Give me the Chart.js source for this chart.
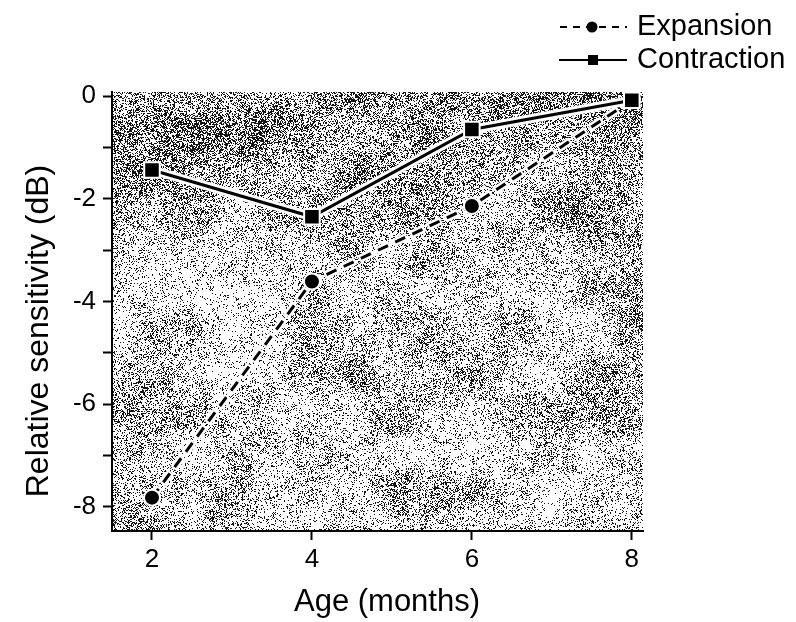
<!DOCTYPE html>
<html>
<head>
<meta charset="utf-8">
<script src="https://cdn.jsdelivr.net/npm/chart.js@4.4.1/dist/chart.umd.min.js"></script>
<style>
  html, body { margin: 0; padding: 0; background: #fff; }
  #caixa { width: 796px; height: 622px; }
</style>
</head>
<body>
<div id="caixa"><canvas id="grafico" width="796" height="622"></canvas></div>
<script>
/* dados */
const idades = [2, 4, 6, 8];
const expansao = [-7.82, -3.61, -2.14, -0.08];
const contracao = [-1.44, -2.35, -0.65, -0.08];
const ticksY = [0, -2, -4, -6, -8];

const rotuloX = 'Age (months)';
const rotuloY = 'Relative sensitivity (dB)';
const nomes = ['Expansion', 'Contraction'];

const fonte = "'Liberation Sans', Arial, sans-serif";

const pontos = (ys) => idades.map((x, i) => ({ x: x, y: ys[i] }));

/* textura de fundo (ruído tipo scanner, determinístico) */
function hash(ix, iy) {
  let h = (Math.imul(ix, 374761393) + Math.imul(iy, 668265263)) | 0;
  h = Math.imul(h ^ (h >>> 13), 1274126177);
  h = h ^ (h >>> 16);
  return (h >>> 0) / 4294967296;
}
function suave(x, y, passo) {
  const gx = Math.floor(x / passo), gy = Math.floor(y / passo);
  const fx = x / passo - gx, fy = y / passo - gy;
  const sx = fx * fx * (3 - 2 * fx), sy = fy * fy * (3 - 2 * fy);
  const a = hash(gx, gy), b = hash(gx + 1, gy), c = hash(gx, gy + 1), d = hash(gx + 1, gy + 1);
  return a + (b - a) * sx + (c - a) * sy + (a - b - c + d) * sx * sy;
}
const texturaPlugin = {
  id: 'textura',
  beforeDraw(chart) {
    const { ctx, chartArea: a } = chart;
    const w = Math.round(a.right - a.left), h = Math.round(a.bottom - a.top);
    const img = ctx.createImageData(w, h);
    for (let y = 0; y < h; y++) {
      for (let x = 0; x < w; x++) {
        const n = 0.5 * suave(x, y, 40) + 0.3 * suave(x + 999, y, 14) + 0.2 * suave(x, y + 777, 6);
        const dens = 0.04 + 0.6 * Math.pow(n, 1.7) + 0.2 * Math.max(0, 1 - y / 200);
        const i = (y * w + x) * 4;
        const v = hash(x + 5000, y + 9000) < dens ? 20 : 255;
        img.data[i] = v; img.data[i + 1] = v; img.data[i + 2] = v; img.data[i + 3] = 255;
      }
    }
    ctx.putImageData(img, Math.round(a.left), Math.round(a.top));
  }
};

/* títulos dos eixos e legenda desenhados à mão */
const textosPlugin = {
  id: 'textos',
  afterDraw(chart) {
    const ctx = chart.ctx;
    ctx.save();
    ctx.fillStyle = '#000';
    ctx.textAlign = 'center';
    ctx.textBaseline = 'alphabetic';
    ctx.font = '31px ' + fonte;
    ctx.fillText(rotuloX, 387, 611);
    ctx.font = '32px ' + fonte;
    ctx.translate(48, 331);
    ctx.rotate(-Math.PI / 2);
    ctx.fillText(rotuloY, 0, 0);
    ctx.restore();

    ctx.save();
    ctx.strokeStyle = '#000';
    ctx.fillStyle = '#000';
    ctx.lineWidth = 2;
    // Expansion
    ctx.setLineDash([7, 6]);
    ctx.beginPath(); ctx.moveTo(560, 27); ctx.lineTo(627, 27); ctx.stroke();
    ctx.setLineDash([]);
    ctx.beginPath(); ctx.arc(592, 27, 5.5, 0, Math.PI * 2); ctx.fill();
    // Contraction
    ctx.beginPath(); ctx.moveTo(559, 60); ctx.lineTo(627, 60); ctx.stroke();
    ctx.fillRect(588, 55, 10, 10);
    ctx.font = '29px ' + fonte;
    ctx.textAlign = 'left';
    ctx.textBaseline = 'middle';
    ctx.fillText(nomes[0], 637, 27);
    ctx.fillText(nomes[1], 637, 60);
    ctx.restore();
  }
};

new Chart(document.getElementById('grafico'), {
  type: 'line',
  data: {
    datasets: [
      { // contração (frente)
        label: nomes[1], data: pontos(contracao), order: 0,
        borderColor: '#000', borderWidth: 3, borderJoinStyle: 'miter',
        pointStyle: 'rect', pointRadius: 11, pointBackgroundColor: '#000',
        pointBorderColor: '#fff', pointBorderWidth: 2, tension: 0
      },
      { // halo branco da contração
        label: 'halo-c', data: pontos(contracao), order: 1,
        borderColor: '#fff', borderWidth: 9, pointRadius: 0, tension: 0
      },
      { // expansão
        label: nomes[0], data: pontos(expansao), order: 2,
        borderColor: '#000', borderWidth: 3, borderDash: [11, 8],
        pointStyle: 'circle', pointRadius: 8, pointBackgroundColor: '#000',
        pointBorderColor: '#fff', pointBorderWidth: 2, tension: 0
      },
      { // halo branco da expansão
        label: 'halo-e', data: pontos(expansao), order: 3,
        borderColor: '#fff', borderWidth: 8, borderDash: [15, 4], borderDashOffset: 2,
        pointRadius: 0, tension: 0
      }
    ]
  },
  options: {
    responsive: false,
    animation: false,
    devicePixelRatio: 1,
    layout: { padding: { top: 92, right: 153, left: 0, bottom: 0 } },
    plugins: { legend: { display: false }, tooltip: { enabled: false } },
    scales: {
      x: {
        type: 'linear', min: 1.5, max: 8.14,
        afterFit: (s) => { s.height = 91; },
        border: { display: true, color: '#000', width: 2 },
        grid: { drawOnChartArea: false, drawTicks: true, tickLength: 9, tickWidth: 2, tickColor: '#000' },
        ticks: {
          stepSize: 2, includeBounds: false, color: '#000', padding: 4,
          font: { family: fonte, size: 26 }, maxRotation: 0
        }
      },
      y: {
        type: 'linear', min: -8.47, max: 0.08,
        afterFit: (s) => { s.width = 112; },
        border: { display: true, color: '#000', width: 2 },
        grid: { drawOnChartArea: false, drawTicks: true, tickLength: 9, tickWidth: 2, tickColor: '#000' },
        ticks: {
          stepSize: 1, includeBounds: false, color: '#000', padding: 7,
          font: { family: fonte, size: 26 },
          callback: (v) => (ticksY.includes(v) ? String(v) : '')
        }
      }
    }
  },
  plugins: [texturaPlugin, textosPlugin]
});
</script>
</body>
</html>
